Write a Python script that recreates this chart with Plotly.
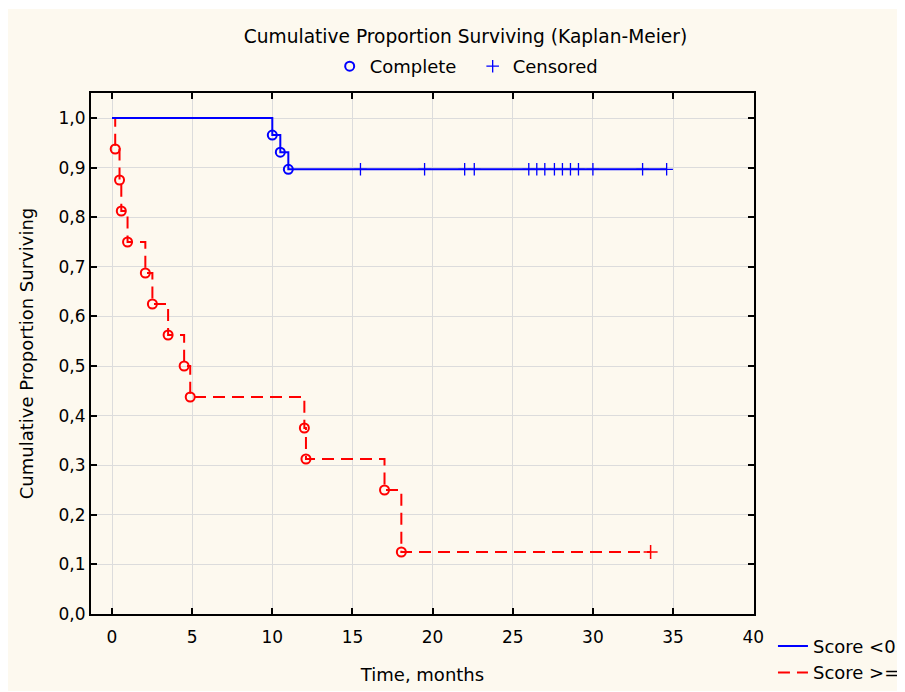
import plotly.graph_objects as go

# ---- data ----
blue_line_t = [0, 10.0, 10.5, 11.0, 34.6]
blue_line_s = [1.0, 0.9655, 0.931, 0.8966, 0.8966]
blue_event_t = [10.0, 10.5, 11.0]
blue_event_s = [0.9655, 0.931, 0.8966]
blue_cens_t = [15.5, 19.5, 22.0, 22.6, 26.0, 26.5, 27.0, 27.6, 28.1, 28.6, 29.1, 30.0, 33.1, 34.6]
blue_cens_s = [0.8966] * len(blue_cens_t)

red_line_t = [0, 0.2, 0.47, 0.58, 0.97, 2.08, 2.52, 3.5, 4.5, 4.88, 12.0, 12.1, 17.0, 18.05, 33.6]
red_line_s = [1.0, 0.9375, 0.875, 0.8125, 0.75, 0.6875, 0.625, 0.5625, 0.5, 0.4375, 0.375, 0.3125, 0.25, 0.125, 0.125]
red_event_t = red_line_t[1:-1]
red_event_s = red_line_s[1:-1]
red_cens_t = [33.6]
red_cens_s = [0.125]

x_ticks = [0, 5, 10, 15, 20, 25, 30, 35, 40]
y_ticks = [0.0, 0.1, 0.2, 0.3, 0.4, 0.5, 0.6, 0.7, 0.8, 0.9, 1.0]

BLUE = "#0000FF"
RED = "#FF0000"
FONT = "DejaVu Sans"

W, H = 897, 684
L, R, T, B = 83, 746, 85, 606  # plot-area edges in figure pixels
PW, PH = R - L, B - T

fig = go.Figure()

# red group
fig.add_trace(go.Scatter(x=red_line_t, y=red_line_s, mode="lines", line_shape="hv",
                         line=dict(color=RED, width=2, dash="12px,7px"),
                         name="Score >=0", legend="legend2", legendrank=2))
fig.add_trace(go.Scatter(x=red_event_t, y=red_event_s, mode="markers", showlegend=False,
                         marker=dict(symbol="circle-open", size=9, color=RED, line=dict(width=2, color=RED))))
fig.add_trace(go.Scatter(x=red_cens_t, y=red_cens_s, mode="markers", showlegend=False,
                         marker=dict(symbol="cross-thin", size=10, color=RED, line=dict(width=1.5, color=RED))))

# blue group
fig.add_trace(go.Scatter(x=blue_line_t, y=blue_line_s, mode="lines", line_shape="hv",
                         line=dict(color=BLUE, width=2), name="Score <0", legend="legend2", legendrank=1))
fig.add_trace(go.Scatter(x=blue_event_t, y=blue_event_s, mode="markers", name="Complete",
                         legend="legend",
                         marker=dict(symbol="circle-open", size=9, color=BLUE, line=dict(width=2, color=BLUE))))
fig.add_trace(go.Scatter(x=blue_cens_t, y=blue_cens_s, mode="markers", name="Censored",
                         legend="legend",
                         marker=dict(symbol="cross-thin", size=9, color=BLUE, line=dict(width=1.3, color=BLUE))))

axis_common = dict(
    showline=True, linecolor="black", linewidth=2, mirror="ticks",
    ticks="inside", ticklen=6, tickwidth=2, tickcolor="black",
    showgrid=True, gridcolor="#DCDCDC", gridwidth=1, zeroline=False,
    tickfont=dict(family=FONT, size=17, color="black"),
)

fig.update_layout(
    width=W, height=H,
    margin=dict(l=L, r=W - R, t=T, b=H - B, autoexpand=False),
    paper_bgcolor="white", plot_bgcolor="white",
    separators=", ",
    font=dict(family=FONT, size=18, color="black"),
    title=dict(text="Cumulative Proportion Surviving (Kaplan-Meier)", x=457.5 / W, xref="container",
               xanchor="center", y=1 - 28 / H, yref="container", yanchor="middle",
               font=dict(family=FONT, size=18.6, color="black")),
    xaxis=dict(range=[-1.31, 40.05], tickvals=x_ticks, ticklabelstandoff=7,
               title=dict(text="Time, months", standoff=22, font=dict(family=FONT, size=18)),
               **axis_common),
    yaxis=dict(range=[0, 1.0504], tickvals=y_ticks, tickformat=".1f",
               title=dict(text="Cumulative Proportion Surviving", standoff=20, font=dict(family=FONT, size=18)),
               **axis_common),
    legend=dict(orientation="h", x=0.36, y=1.0864, xanchor="left", yanchor="top",
                bgcolor="rgba(0,0,0,0)", font=dict(family=FONT, size=18), itemclick=False,
                entrywidth=98),
    legend2=dict(orientation="v", x=1.0286, y=-0.0265, xanchor="left", yanchor="top",
                 bgcolor="rgba(0,0,0,0)", font=dict(family=FONT, size=18)),
    shapes=[dict(type="rect", xref="paper", yref="paper", x0=(0 - L) / PW, x1=(W - L) / PW,
                 y0=(B - 683) / PH, y1=(B - 1) / PH, fillcolor="#FDF9EF", line=dict(width=0),
                 layer="below")],
)

fig.write_html("out.html")
